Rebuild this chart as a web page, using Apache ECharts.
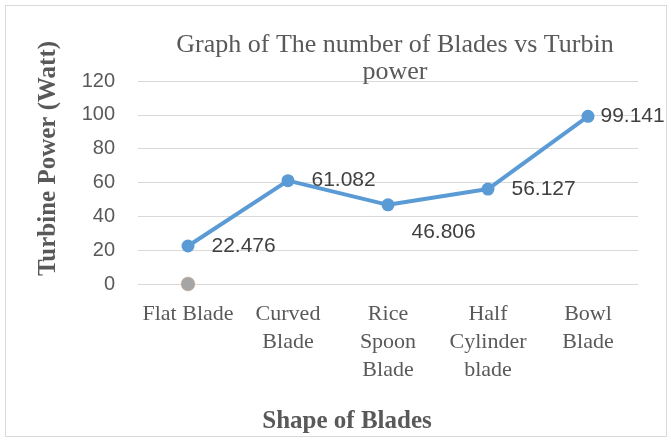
<!DOCTYPE html>
<html>
<head>
<meta charset="utf-8">
<script src="https://cdn.jsdelivr.net/npm/echarts@6/dist/echarts.min.js"></script>
<style>
  html, body { margin: 0; padding: 0; background: #fff; }
  .frame { position: absolute; left: 5px; top: 5px; width: 660px; height: 430px; border: 1px solid #d9d9d9; }
  #chart { width: 671px; height: 441px; }
</style>
</head>
<body>
<div class="frame"></div>
<div id="chart"></div>
<script>
const categories = ['Flat Blade', 'Curved\nBlade', 'Rice\nSpoon\nBlade', 'Half\nCylinder\nblade', 'Bowl\nBlade']
const powerValues = [22.476, 61.082, 46.806, 56.127, 99.141]
const baseValues = [0, null, null, null, null]

const serif = '"Liberation Serif", "DejaVu Serif", serif'
const sans = '"Liberation Sans", Arial, sans-serif'

const chart = echarts.init(document.getElementById('chart'))

const lineData = powerValues.map((v, i) => {
    // 46.806 label sits below-right of its point, last one is pulled in
    if (i === 2) {
        return { value: v, label: { offset: [0, 27] } }
    }
    if (i === 4) {
        return { value: v, label: { offset: [-11, 0] } }
    }
    return v
})

chart.setOption({
    animation: false,
    title: {
        text: 'Graph of The number of Blades vs Turbin\npower',
        left: 390,
        top: 27,
        textAlign: 'center',
        textStyle: {
            fontFamily: serif,
            fontWeight: 'normal',
            fontSize: 26,
            color: '#595959',
            lineHeight: 27
        }
    },
    grid: {
        left: 138,
        right: 33,
        top: 81,
        bottom: 157
    },
    xAxis: {
        type: 'category',
        data: categories,
        name: 'Shape of Blades',
        nameLocation: 'middle',
        nameGap: 125,
        nameTextStyle: {
            fontFamily: serif,
            fontWeight: 'bold',
            fontSize: 25,
            color: '#595959',
            padding: [0, 82, 0, 0]
        },
        axisLine: { show: false },
        axisTick: { show: false },
        axisLabel: {
            interval: 0,
            fontFamily: serif,
            fontSize: 22,
            color: '#595959',
            lineHeight: 28,
            margin: 16
        }
    },
    yAxis: {
        type: 'value',
        min: 0,
        max: 120,
        interval: 20,
        name: 'Turbine Power (Watt)',
        nameLocation: 'middle',
        nameGap: 77,
        nameTextStyle: {
            fontFamily: serif,
            fontWeight: 'bold',
            fontSize: 25,
            color: '#595959',
            padding: [0, 0, 0, 48]
        },
        axisLine: { show: false },
        axisTick: { show: false },
        axisLabel: {
            fontFamily: sans,
            fontSize: 20,
            color: '#595959',
            margin: 23
        },
        splitLine: { lineStyle: { color: '#d9d9d9', width: 1 } }
    },
    series: [
        {
            type: 'line',
            data: lineData,
            symbol: 'circle',
            symbolSize: 13,
            itemStyle: { color: '#5b9bd5' },
            lineStyle: { color: '#5b9bd5', width: 4 },
            label: {
                show: true,
                position: 'right',
                distance: 17,
                fontFamily: sans,
                fontSize: 21,
                color: '#404040'
            }
        },
        {
            type: 'line',
            data: baseValues,
            symbol: 'circle',
            symbolSize: 14,
            itemStyle: { color: '#a5a5a5', borderColor: '#e0b090', borderWidth: 0.5 },
            lineStyle: { width: 0 }
        }
    ]
})
</script>
</body>
</html>
